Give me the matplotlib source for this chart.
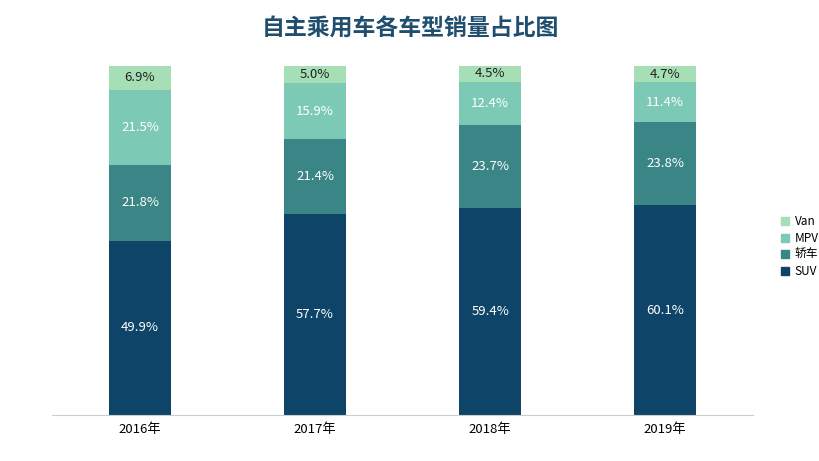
import matplotlib
matplotlib.use("Agg")
import matplotlib.pyplot as plt
from matplotlib.patches import Patch
from matplotlib import font_manager as fm

names = sorted({f.name for f in fm.fontManager.ttflist})
cjk = [n for n in names if "CJK" in n]
plt.rcParams["font.family"] = cjk + ["DejaVu Sans"]

years = ["2016年", "2017年", "2018年", "2019年"]
series_names = ["SUV", "轿车", "MPV", "Van"]
suv = [49.9, 57.7, 59.4, 60.1]
sedan = [21.8, 21.4, 23.7, 23.8]
mpv = [21.5, 15.9, 12.4, 11.4]
van = [6.9, 5.0, 4.5, 4.7]
colors = ["#0e4467", "#3a8585", "#7ccab5", "#a6dfb6"]
text_colors = ["white", "white", "white", "#222222"]

fig = plt.figure(figsize=(8.2, 4.61), dpi=100)
ax = fig.add_axes([0.064, 0.0998, 0.854, 0.757])
x = list(range(len(years)))
bottom = [0.0] * len(years)
for vals, c, tc in zip([suv, sedan, mpv, van], colors, text_colors):
    ax.bar(x, vals, 0.354, bottom=bottom, color=c)
    for i, v in enumerate(vals):
        ax.text(i, bottom[i] + v / 2, f"{v:.1f}%", ha="center", va="center", color=tc, fontsize=9.5)
    bottom = [b + v for b, v in zip(bottom, vals)]

ax.set_xlim(-0.5, 3.5)
ax.set_ylim(0, 100)
ax.set_xticks(x)
ax.set_xticklabels(years, fontsize=9.5)
ax.set_yticks([])
for s in ["top", "right", "left"]:
    ax.spines[s].set_visible(False)
ax.spines["bottom"].set_color("#cccccc")
ax.tick_params(axis="x", length=0, pad=6)

handles = [Patch(color=c, label=n) for c, n in zip(colors, series_names)][::-1]
fig.legend(handles=handles, loc="center left", bbox_to_anchor=(0.952, 0.465), frameon=False,
           fontsize=8.5, handlelength=0.7, handleheight=0.7, handletextpad=0.5, labelspacing=0.3,
           borderaxespad=0, borderpad=0)

fig.text(0.5, 0.937, "自主乘用车各车型销量占比图", ha="center", va="center", fontsize=16.5,
         fontweight="bold", color="#1f4e6e")
fig.savefig("out.png", dpi=100)
